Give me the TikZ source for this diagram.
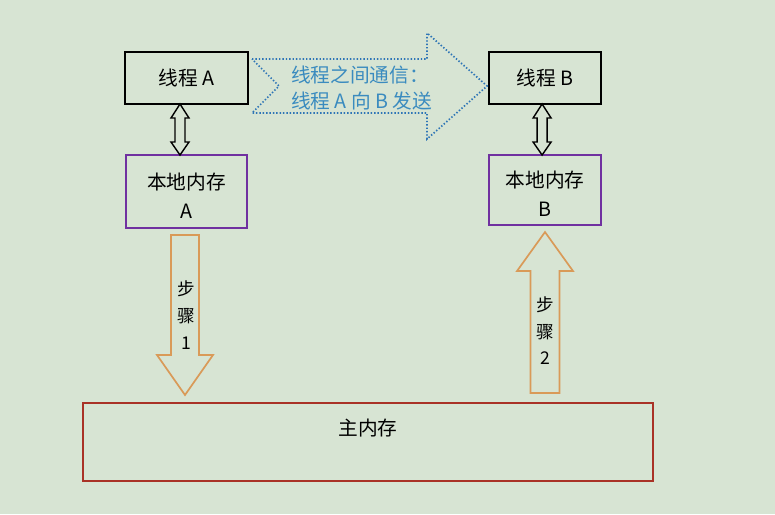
\documentclass[tikz,border=0pt]{standalone}
\usepackage{fontspec}
\setmainfont{Noto Sans CJK SC}
\usepackage{xcolor}
\usepackage{tikz}
\usetikzlibrary{positioning,calc}
\definecolor{jmmbg}{HTML}{D7E4D3}
\definecolor{jmmpurple}{HTML}{7030A0}
\definecolor{jmmorange}{HTML}{D99A58}
\definecolor{jmmblue}{HTML}{2E75B6}
\definecolor{jmmtext}{HTML}{3A8BBF}
\definecolor{jmmred}{HTML}{A93226}

\begin{document}
\begin{tikzpicture}[
    x=0.025cm, y=-0.025cm,
    font=\fontsize{14}{20.5}\selectfont,
    thread/.style={draw=black,line width=1.4pt,minimum width=#1,minimum height=1.3cm,inner sep=0pt,outer sep=0pt},
    local/.style={draw=jmmpurple,line width=1.1pt,minimum width=#1,align=center,inner sep=0pt,outer sep=0pt,text height=38pt},
    mem/.style={draw=jmmred,line width=1.5pt,minimum width=14.25cm,minimum height=1.95cm,outer sep=0pt},
    dbl/.style={draw=black,line width=1pt,line join=miter},
    stepar/.style={draw=jmmorange,line width=1.2pt,line join=miter},
    steptext/.style={align=center,font=\fontsize{12.5}{19}\selectfont},
    msg/.style={draw=jmmblue,line width=1.2pt,dash pattern=on 1pt off 1.4pt},
    msgtext/.style={align=left,text=jmmtext,font=\fontsize{14}{18.5}\selectfont}
  ]
    \fill[jmmbg] (0,0) rectangle (775,514);

    \node[thread=3.075cm] (threadA) at (186.5,78) {线程 A};
    \node[thread=2.8cm,right=6.025cm of threadA] (threadB) {线程 B};
    \node[local=3.025cm,minimum height=1.825cm,below=1.275cm of threadA] (localA) {本地内存\\A};
    \node[local=2.8cm,minimum height=1.75cm,below=1.275cm of threadB] (localB) {本地内存\\B};
    \node[mem,label={[anchor=center,yshift=-0.63cm]north:主内存}] (main) at (368,442) {};

    \coordinate (abTop) at ($(threadA.south)+(-6.5,0)$);
    \coordinate (abBot) at (abTop |- localA.north);
    \coordinate (bbTop) at ($(threadB.south)+(-3,0)$);
    \coordinate (bbBot) at (bbTop |- localB.north);
    \draw[dbl] (abTop) -- ++(9,14) -- ++(-4,0) -- ($(abBot)+(5,-13)$) -- ++(4,0) -- (abBot)
      -- ++(-9,-13) -- ++(4,0) -- ($(abTop)+(-5,14)$) -- ++(-4,0) -- cycle;
    \draw[dbl] (bbTop) -- ++(9,14) -- ++(-4,0) -- ($(bbBot)+(5,-13)$) -- ++(4,0) -- (bbBot)
      -- ++(-9,-13) -- ++(4,0) -- ($(bbTop)+(-5,14)$) -- ++(-4,0) -- cycle;

    \coordinate (msgS) at ($(threadA.east)+(4,8)$);
    \coordinate (msgE) at ($(threadB.west)+(-2,8)$);
    \draw[msg] ($(msgS)+(0,-27)$) -- ($(msgE)+(-60,-27)$) -- ++(0,-26) -- (msgE) -- ++(-60,53)
      -- ++(0,-26) -- ($(msgS)+(0,27)$) -- ++(27,-27) -- cycle;
    \node[msgtext] (msgT) at ($(msgS)!0.466!(msgE)+(0,2)$) {线程之间通信：\\线程 A 向 B 发送};

    \coordinate (s1b) at ($(main.north)+(-183,-8)$);
    \coordinate (s1a) at ($(s1b |- localA.south)+(0,7)$);
    \draw[stepar] ($(s1a)+(-14,0)$) -- ($(s1a)+(14,0)$) -- ($(s1b)+(14,-40)$) -- ++(14,0) -- (s1b)
      -- ++(-28,-40) -- ++(14,0) -- cycle;
    \node[steptext] (step1) at ($(s1a)!0.5!(s1b)+(1,0)$) {步\\骤\\1};

    \coordinate (s2a) at ($(main.north)+(177,-10)$);
    \coordinate (s2b) at ($(s2a |- localB.south)+(0,7)$);
    \draw[stepar] ($(s2a)+(-14.5,0)$) -- ($(s2a)+(14.5,0)$) -- ($(s2b)+(14.5,39)$) -- ++(13.5,0) -- (s2b)
      -- ++(-28,39) -- ++(13.5,0) -- cycle;
    \node[steptext] (step2) at ($(s2a)!0.4!(s2b)+(0,2)$) {步\\骤\\2};
\end{tikzpicture}
\end{document}
